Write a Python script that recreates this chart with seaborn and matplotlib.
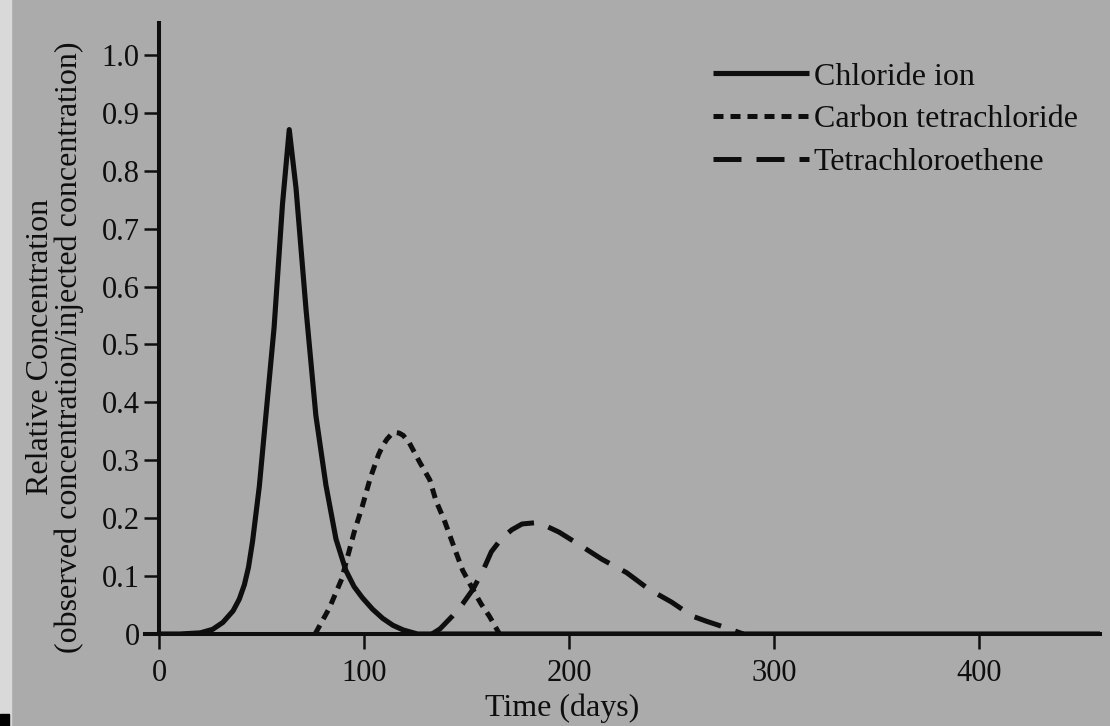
import matplotlib
matplotlib.use('Agg')
import matplotlib.pyplot as plt
from matplotlib.patches import Rectangle
import seaborn as sns

# breakthrough curves (days, relative concentration)
chloride_days = [0, 10, 20, 26, 31, 36, 39, 41.5, 43.5, 45.5, 48.8, 52, 56, 60.1, 63.4,
                 66.7, 71.6, 76.4, 81.3, 86.2, 91, 95, 99, 104, 109, 114, 119, 126, 460]
chloride_conc = [0, 0, 0.002, 0.008, 0.02, 0.04, 0.06, 0.085, 0.115, 0.16, 0.255, 0.377, 0.529, 0.742, 0.871,
                 0.77, 0.56, 0.377, 0.257, 0.164, 0.11, 0.082, 0.063, 0.043, 0.027, 0.015, 0.007, 0, 0]

carbon_days = [76, 83, 89, 95, 99, 103, 107, 109, 111, 113, 115, 117, 119, 122, 127, 132, 135,
               139, 143, 148, 153, 157, 161, 166]
carbon_conc = [0, 0.045, 0.095, 0.175, 0.22, 0.27, 0.31, 0.325, 0.336, 0.344, 0.348, 0.347, 0.343, 0.33,
               0.297, 0.266, 0.23, 0.197, 0.158, 0.11, 0.077, 0.052, 0.031, 0]

tetra_days = [133, 137, 143, 148, 153, 158, 162, 167, 172, 177, 183, 189, 195, 205, 216, 228,
              239, 250, 260, 267, 273, 285]
tetra_conc = [0, 0.009, 0.031, 0.052, 0.077, 0.11, 0.142, 0.165, 0.18, 0.19, 0.192, 0.186, 0.176, 0.154,
              0.129, 0.106, 0.077, 0.055, 0.031, 0.022, 0.015, 0]

series_names = ['Chloride ion', 'Carbon tetrachloride', 'Tetrachloroethene']
x_ticks = [0, 100, 200, 300, 400]
y_ticks = [0, 0.1, 0.2, 0.3, 0.4, 0.5, 0.6, 0.7, 0.8, 0.9, 1.0]
y_labels = ['0', '0.1', '0.2', '0.3', '0.4', '0.5', '0.6', '0.7', '0.8', '0.9', '1.0']

BG = '#ababab'
INK = '#0e0e0e'

sns.set_theme(style='ticks')
plt.rcParams['font.family'] = ['Liberation Serif', 'DejaVu Serif']

fig = plt.figure(figsize=(11.1, 7.26), dpi=100)
fig.patch.set_facecolor(BG)
ax = fig.add_axes([0.1306, 0.1267, 0.8604, 0.8416])
ax.set_facecolor(BG)

sns.lineplot(x=chloride_days, y=chloride_conc, ax=ax, color=INK, linewidth=3.7,
             label=series_names[0], sort=False)
sns.lineplot(x=carbon_days, y=carbon_conc, ax=ax, color=INK, linewidth=3.6,
             label=series_names[1], sort=False)
sns.lineplot(x=tetra_days, y=tetra_conc, ax=ax, color=INK, linewidth=3.6,
             label=series_names[2], sort=False)

lines = ax.get_lines()
lines[1].set_dashes([2.0, 1.4])
lines[2].set_dashes([5.6, 3.0])
for ln in lines:
    ln.set_solid_capstyle('butt')
    ln.set_dash_capstyle('butt')
    ln.set_solid_joinstyle('round')

ax.set_xlim(-7, 459)
ax.set_ylim(0, 1.055)
ax.set_xticks(x_ticks)
ax.set_xticklabels([str(t) for t in x_ticks])
ax.set_yticks(y_ticks)
ax.set_yticklabels(y_labels)

for s in ['top', 'right']:
    ax.spines[s].set_visible(False)
ax.spines['left'].set_position(('data', 0))
for s in ['left', 'bottom']:
    ax.spines[s].set_linewidth(2.9)
    ax.spines[s].set_color(INK)

ax.tick_params(axis='both', direction='out', colors=INK, width=1.8, labelsize=22)
ax.tick_params(axis='y', length=11, pad=3)
ax.tick_params(axis='x', length=11, pad=7)

ax.set_xlabel('Time (days)', fontsize=23, color=INK)
ax.set_ylabel('Relative Concentration\n(observed concentration/injected concentration)',
              fontsize=23, color=INK, linespacing=0.95)
ax.xaxis.set_label_coords(0.4367, -0.097)
ax.yaxis.set_label_coords(-0.064, 0.47)

ax.legend(loc='upper left', bbox_to_anchor=(0.578, 0.962), frameon=False,
          fontsize=23, handlelength=3.0, handletextpad=0.15, labelspacing=0.42,
          borderpad=0, labelcolor=INK)

# scan edges
fig.add_artist(Rectangle((0, 0), 11 / 1110, 1, transform=fig.transFigure,
                         color='#d9d9d9', zorder=0))
fig.add_artist(Rectangle((0, 0), 9 / 1110, 12 / 726, transform=fig.transFigure,
                         color='black', zorder=5))

fig.savefig('out.png', dpi=100, facecolor=BG)
